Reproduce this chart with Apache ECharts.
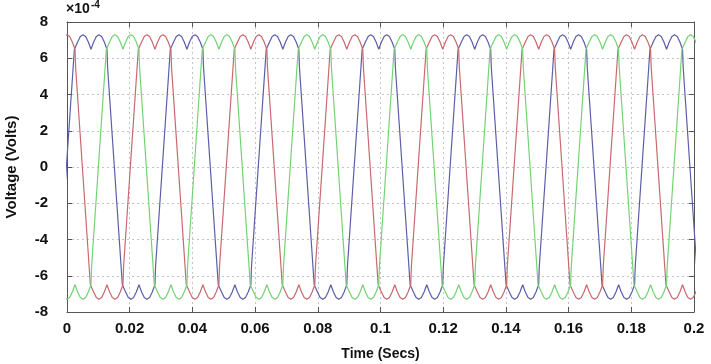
<!DOCTYPE html>
<html>
<head>
<meta charset="utf-8">
<script src="https://cdn.jsdelivr.net/npm/echarts@6/dist/echarts.min.js"></script>
<style>
  html, body { margin: 0; padding: 0; background: #fff; }
  #chart { width: 711px; height: 364px; }
</style>
</head>
<body>
<div id="chart"></div>
<script>
// values, in units of 1e-4 V
var period = 0.0306;   // s, one cycle (~96 px between repeats)
var humpLevels = [6.5, 6.9, 7.2, 7.3, 7.2, 6.9];   // ripple on the flat top (dip -> peak -> dip)
var stairLevels = [6.5, 5.5, 4.5, 3.5, 2.5, 1.5, 0.5, -0.5, -1.5, -2.5, -3.5, -4.5, -5.5, -6.5];
var phaseNames = ['Va', 'Vb', 'Vc'];
var plateauStarts = [0.00255, -0.00765, 0.01275];   // s, where each phase's top begins
var xTicks = [0, 0.02, 0.04, 0.06, 0.08, 0.1, 0.12, 0.14, 0.16, 0.18, 0.2];
var yTicks = [-8, -6, -4, -2, 0, 2, 4, 6, 8];

// one cycle as [fraction of period, value]: top, falling steps, bottom, rising steps
function onePeriod() {
  var pts = [], slot = 1 / 6, n = stairLevels.length - 1, h, i, k, u;
  for (h = 0; h < 2; h++)
    for (i = 0; i < humpLevels.length; i++)
      pts.push([(h + i / humpLevels.length) * slot, humpLevels[i]]);
  pts.push([2 * slot, humpLevels[0]]);
  for (k = 1; k <= n; k++) {
    u = 2 * slot + (k - 0.5) / n * slot;
    pts.push([u, stairLevels[k - 1]]);
    pts.push([u, stairLevels[k]]);
  }
  for (h = 0; h < 2; h++)
    for (i = 0; i < humpLevels.length; i++)
      pts.push([(3 + h + i / humpLevels.length) * slot, -humpLevels[i]]);
  pts.push([5 * slot, -humpLevels[0]]);
  for (k = 1; k <= n; k++) {
    u = 5 * slot + (k - 0.5) / n * slot;
    pts.push([u, -stairLevels[k - 1]]);
    pts.push([u, -stairLevels[k]]);
  }
  return pts;
}

function phaseData(start) {
  var tpl = onePeriod(), out = [];
  for (var c = -2; c < 9; c++) {
    tpl.forEach(function (p) {
      var t = start + (c + p[0]) * period;
      if (t > -0.01 && t < 0.21) out.push([t, p[1]]);
    });
  }
  return out;
}

var chart = echarts.init(document.getElementById('chart'));
var colors = ['#5b5ea8', '#c9686e', '#74d274'];
var fontFam = 'Liberation Sans, Arial, sans-serif';

function axisBase(min, max, step) {
  return {
    type: 'value', min: min, max: max, interval: step,
    axisLine: { show: true, onZero: false, lineStyle: { color: '#555', width: 1 } },
    axisTick: { show: true, inside: true, length: 5, lineStyle: { color: '#555' } }
  };
}

var xMain = axisBase(xTicks[0], xTicks[xTicks.length - 1], 0.02);
xMain.position = 'bottom';
xMain.name = 'Time (Secs)';
xMain.nameLocation = 'middle';
xMain.nameGap = 35;
xMain.nameTextStyle = { color: '#111', fontSize: 14, fontWeight: 'bold', fontFamily: fontFam };
xMain.axisLabel = {
  color: '#111', fontSize: 15, fontWeight: 'bold', fontFamily: fontFam, margin: 9,
  formatter: function (v) { return String(Number(v.toFixed(2))); }
};
xMain.splitLine = { show: true, lineStyle: { type: [2, 3], color: '#c4c4c4' } };

var xTop = axisBase(xTicks[0], xTicks[xTicks.length - 1], 0.02);
xTop.position = 'top';
xTop.axisLabel = { show: false };
xTop.splitLine = { show: false };

var yMain = axisBase(yTicks[0], yTicks[yTicks.length - 1], 2);
yMain.position = 'left';
yMain.name = 'Voltage (Volts)';
yMain.nameLocation = 'middle';
yMain.nameGap = 48;
yMain.nameTextStyle = { color: '#111', fontSize: 15, fontWeight: 'bold', fontFamily: fontFam };
yMain.axisLabel = { color: '#111', fontSize: 15, fontWeight: 'bold', fontFamily: fontFam, margin: 19 };
yMain.splitLine = { show: true, lineStyle: { type: [2, 3], color: '#c4c4c4' } };

var yRight = axisBase(yTicks[0], yTicks[yTicks.length - 1], 2);
yRight.position = 'right';
yRight.axisLabel = { show: false };
yRight.splitLine = { show: false };

var series = phaseNames.map(function (name, i) {
  return {
    name: name,
    type: 'line',
    xAxisIndex: 0,
    yAxisIndex: 0,
    data: phaseData(plateauStarts[i]),
    showSymbol: false,
    clip: true,
    lineStyle: { color: colors[i], width: 1.2 },
    itemStyle: { color: colors[i] }
  };
});

chart.setOption({
  animation: false,
  backgroundColor: '#fff',
  grid: { left: 67, right: 17, top: 22, bottom: 52, containLabel: false, outerBoundsMode: 'none' },
  xAxis: [xMain, xTop],
  yAxis: [yMain, yRight],
  series: series,
  graphic: [
    { type: 'text', left: 66, top: 2, style: { text: '×10', fill: '#111', font: 'bold 14px ' + fontFam } },
    { type: 'text', left: 91, top: 0, style: { text: '-4', fill: '#111', font: 'bold 10px ' + fontFam } }
  ]
});
</script>
</body>
</html>
